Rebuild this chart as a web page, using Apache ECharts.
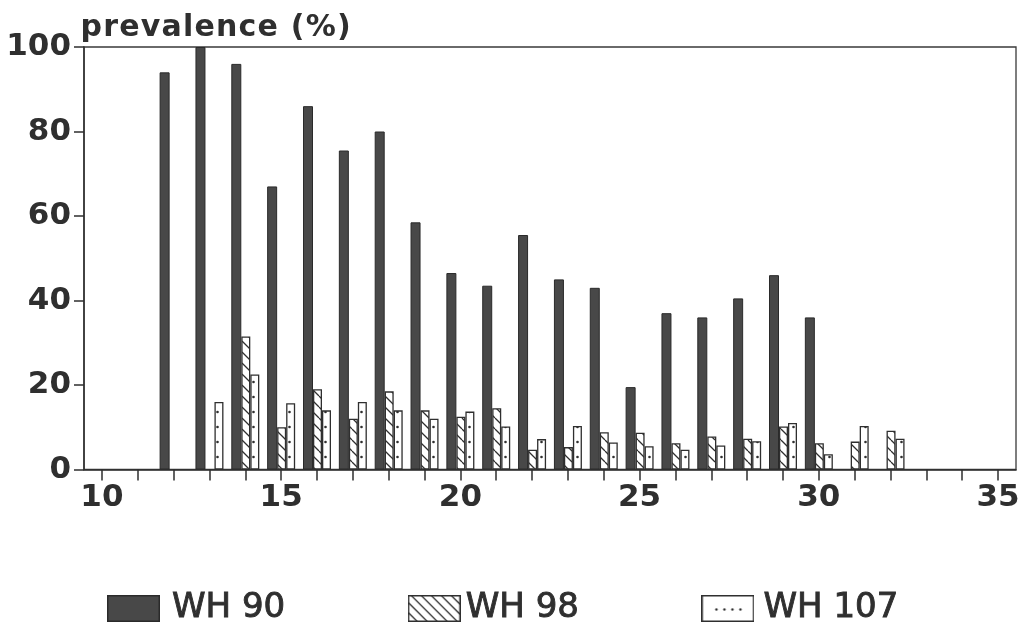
<!DOCTYPE html>
<html>
<head>
<meta charset="utf-8">
<script src="https://cdn.jsdelivr.net/npm/echarts@6/dist/echarts.min.js"></script>
<style>
  html, body { margin: 0; padding: 0; background: #ffffff; }
  #chart { width: 1026px; height: 629px; }
</style>
</head>
<body>
<div id="chart"></div>
<script>
// Prevalence (%) per length class for three strains
const lengths = [12, 13, 14, 15, 16, 17, 18, 19, 20, 21, 22, 23, 24, 25, 26, 27, 28, 29, 30, 31, 32];
const wh90  = [94, 100, 96, 67, 86, 75.5, 80, 58.5, 46.5, 43.5, 55.5, 45, 43, 19.5, 37, 36, 40.5, 46, 36, null, null];
const wh98  = [null, null, 31.5, 10, 19, 12, 18.5, 14, 12.5, 14.5, 4.7, 5.3, 8.8, 8.7, 6.2, 7.8, 7.3, 10.2, 6.2, 6.6, 9.2];
const wh107 = [null, 16, 22.5, 15.7, 14, 16, 14, 12, 13.7, 10.2, 7.2, 10.3, 6.4, 5.5, 4.7, 5.7, 6.7, 11, 3.6, 10.3, 7.3];

const seriesNames = ['WH 90', 'WH 98', 'WH 107'];
const xTicks  = [10, 11, 12, 13, 14, 15, 16, 17, 18, 19, 20, 21, 22, 23, 24, 25, 26, 27, 28, 29, 30, 31, 32, 33, 34, 35];
const xLabels = [10, 15, 20, 25, 30, 35];
const yTitle = 'prevalence (%)';

const INK = '#2f2f2f';
const DARK = '#484848';
const FONT = 'DejaVu Sans';

// ---- fill patterns ----
function hatchTile(size, width) {
  const c = document.createElement('canvas');
  c.width = size; c.height = size;
  const g = c.getContext('2d');
  g.fillStyle = '#ffffff';
  g.fillRect(0, 0, size, size);
  g.strokeStyle = INK;
  g.lineWidth = width;
  g.beginPath();
  for (let k = -1; k <= 1; k++) {
    g.moveTo(k * size, 0);
    g.lineTo(k * size + size, size);
  }
  g.stroke();
  return c;
}
function dotTile(w, h, cx, cy, r) {
  const c = document.createElement('canvas');
  c.width = w; c.height = h;
  const g = c.getContext('2d');
  g.fillStyle = '#ffffff';
  g.fillRect(0, 0, w, h);
  g.fillStyle = INK;
  g.beginPath();
  g.arc(cx, cy, r, 0, Math.PI * 2);
  g.fill();
  return c;
}

// ---- legend swatches ----
function swatch(kind) {
  const w = 53, h = 27;
  const c = document.createElement('canvas');
  c.width = w; c.height = h;
  const g = c.getContext('2d');
  if (kind === 0) {
    g.fillStyle = DARK;
    g.fillRect(0, 0, w, h);
    g.strokeStyle = '#2a2a2a';
    g.lineWidth = 1.5;
    g.strokeRect(0.75, 0.75, w - 1.5, h - 1.5);
    return c.toDataURL();
  }
  g.fillStyle = '#ffffff';
  g.fillRect(0, 0, w, h);
  g.strokeStyle = INK;
  g.fillStyle = INK;
  if (kind === 1) {
    g.save();
    g.beginPath();
    g.rect(0, 0, w, h);
    g.clip();
    g.lineWidth = 1.3;
    g.beginPath();
    for (let x = -h; x < w + h; x += 10) {
      g.moveTo(x, 0);
      g.lineTo(x + h, h);
    }
    g.stroke();
    g.restore();
  } else {
    for (let i = 0; i < 4; i++) {
      g.beginPath();
      g.arc(15 + i * 8, h / 2 + 1, 1.2, 0, Math.PI * 2);
      g.fill();
    }
  }
  g.lineWidth = 1.5;
  g.strokeRect(0.75, 0.75, w - 1.5, h - 1.5);
  return c.toDataURL();
}

function pairs(values) {
  const out = [];
  lengths.forEach((x, i) => { if (values[i] != null) out.push([x, values[i]]); });
  return out;
}

// letter-spaced heading built from rich text tokens
const spacedTitle = yTitle.split('').map(ch => '{c|' + ch + '}').join('');

const labelText = { fontFamily: FONT, fontSize: 31, fontWeight: 'bold', color: INK };

const chart = echarts.init(document.getElementById('chart'), null, { renderer: 'canvas' });

chart.setOption({
  backgroundColor: '#ffffff',
  animation: false,
  title: {
    text: spacedTitle,
    left: 80,
    top: 13,
    padding: 0,
    textStyle: {
      rich: {
        c: { fontFamily: FONT, fontSize: 30, fontWeight: 'bold', color: INK, padding: [0, 0.6, 0, 0.6] }
      }
    }
  },
  legend: {
    left: 107,
    top: 591,
    padding: 0,
    itemWidth: 53,
    itemHeight: 27,
    itemGap: 122,
    selectedMode: false,
    textStyle: {
      fontFamily: FONT, fontSize: 34, color: INK, lineHeight: 30,
      textBorderColor: INK, textBorderWidth: 0.9
    },
    data: [
      { name: seriesNames[0], icon: 'image://' + swatch(0), textStyle: { padding: [0, 0, 0, 7] } },
      { name: seriesNames[1], icon: 'image://' + swatch(1) },
      { name: seriesNames[2], icon: 'image://' + swatch(2), textStyle: { padding: [0, 0, 0, 4] } }
    ]
  },
  grid: {
    left: 84,
    right: 10,
    top: 47,
    height: 422.5,
    show: true,
    borderColor: '#3a3a3a',
    borderWidth: 1.3,
    backgroundColor: 'transparent'
  },
  xAxis: {
    type: 'value',
    min: 9.5,
    max: 35.5,
    axisLine: { show: true, onZero: false, lineStyle: { color: INK, width: 1.5 } },
    axisTick: { show: true, length: 11, customValues: xTicks, lineStyle: { color: INK, width: 1.5 } },
    axisLabel: Object.assign({ customValues: xLabels, margin: 13 }, labelText),
    splitLine: { show: false }
  },
  yAxis: {
    type: 'value',
    min: 0,
    max: 100,
    interval: 20,
    axisLine: { show: true, lineStyle: { color: INK, width: 1.5 } },
    axisTick: { show: true, length: 10, lineStyle: { color: INK, width: 1.5 } },
    axisLabel: Object.assign({ margin: 13 }, labelText),
    splitLine: { show: false }
  },
  series: [
    {
      name: seriesNames[0],
      type: 'bar',
      barWidth: 10,
      barGap: '0%',
      data: pairs(wh90),
      itemStyle: { color: DARK, borderColor: '#2a2a2a', borderWidth: 1 }
    },
    {
      name: seriesNames[1],
      type: 'bar',
      barWidth: 9,
      barGap: '0%',
      data: pairs(wh98),
      itemStyle: {
        color: { image: hatchTile(11, 1.3), repeat: 'repeat' },
        borderColor: INK,
        borderWidth: 1.3
      }
    },
    {
      name: seriesNames[2],
      type: 'bar',
      barWidth: 9,
      barGap: '0%',
      data: pairs(wh107),
      itemStyle: {
        color: { image: dotTile(36, 15, 1.5, 7, 1.3), repeat: 'repeat' },
        borderColor: INK,
        borderWidth: 1.3
      }
    }
  ]
});
</script>
</body>
</html>
